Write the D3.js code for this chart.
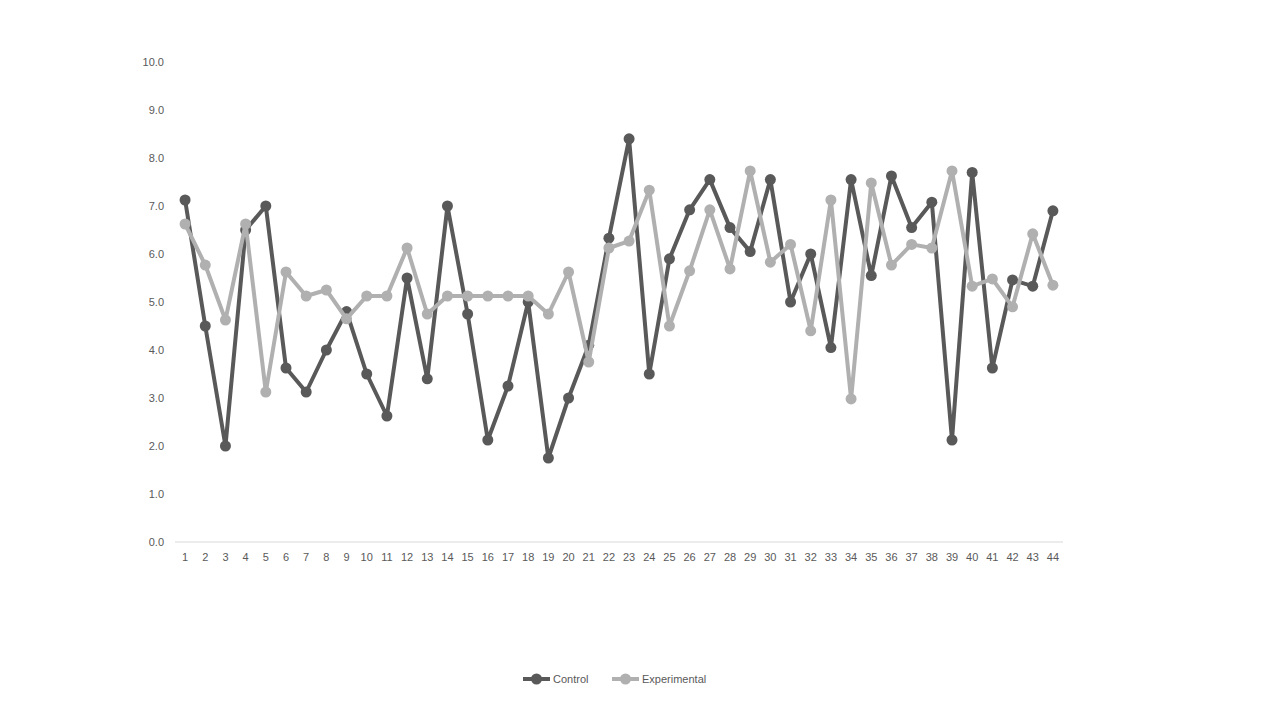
<!DOCTYPE html>
<html><head><meta charset="utf-8">
<script src="https://cdn.jsdelivr.net/npm/d3@7"></script>
<style>body{margin:0;background:#fff;} text{font-family:"Liberation Sans","DejaVu Sans",sans-serif;}</style>
</head><body><svg id="c" width="1280" height="720"></svg>
<script>
const categories = d3.range(1, 45).map(String);
const control = [7.125,4.5,2.0,6.5,7.0,3.625,3.125,4.0,4.8,3.5,2.625,5.5,3.4,7.0,4.75,2.125,3.25,5.0,1.75,3.0,4.1,6.33,8.4,3.5,5.9,6.92,7.55,6.55,6.05,7.55,5.0,6.0,4.05,7.55,5.55,7.625,6.55,7.08,2.125,7.7,3.625,5.46,5.33,6.9];
const experimental = [6.625,5.77,4.625,6.625,3.125,5.625,5.125,5.25,4.65,5.125,5.125,6.125,4.75,5.125,5.125,5.125,5.125,5.125,4.75,5.625,3.75,6.125,6.27,7.33,4.5,5.65,6.92,5.69,7.73,5.83,6.2,4.4,7.125,2.98,7.48,5.77,6.2,6.125,7.73,5.33,5.48,4.9,6.42,5.35];
const yTicks = [0,1,2,3,4,5,6,7,8,9,10];
const seriesNames = ["Control","Experimental"];
const colors = ["#595959","#b0b0b0"];

const svg = d3.select("#c");
const x = d3.scaleBand().domain(categories).range([175, 1063]);
const y = d3.scaleLinear().domain([0,10]).range([542, 62]);

// y labels
svg.append("g").selectAll("text").data(yTicks).join("text")
  .attr("x", 164).attr("y", d => y(d)).attr("dy","0.35em")
  .attr("text-anchor","end").attr("font-size",11).attr("fill","#595959")
  .text(d => d.toFixed(1));

// x axis line
svg.append("line").attr("x1",175).attr("x2",1063).attr("y1",y(0)).attr("y2",y(0))
  .attr("stroke","#d9d9d9").attr("stroke-width",1);
svg.append("g").selectAll("text").data(categories).join("text")
  .attr("x", d => x(d) + x.bandwidth()/2).attr("y", 561)
  .attr("text-anchor","middle").attr("font-size",11).attr("fill","#595959")
  .text(d => d);

const line = d3.line().x((d,i) => x(categories[i]) + x.bandwidth()/2).y(d => y(d));
[control, experimental].forEach((data, s) => {
  const g = svg.append("g");
  g.append("path").attr("d", line(data)).attr("fill","none")
    .attr("stroke", colors[s]).attr("stroke-width",4).attr("stroke-linejoin","round");
  g.selectAll("circle").data(data).join("circle")
    .attr("cx",(d,i) => x(categories[i]) + x.bandwidth()/2).attr("cy", d => y(d))
    .attr("r",5.5).attr("fill",colors[s]);
});

// legend
const legX = [523, 612];
seriesNames.forEach((n, s) => {
  const g = svg.append("g").attr("transform",`translate(${legX[s]},679)`);
  g.append("line").attr("x1",0).attr("x2",27).attr("stroke",colors[s]).attr("stroke-width",4);
  g.append("circle").attr("cx",13.5).attr("r",5.5).attr("fill",colors[s]);
  g.append("text").attr("x",30).attr("dy","0.35em").attr("font-size",11).attr("fill","#595959").text(n);
});
</script></body></html>
